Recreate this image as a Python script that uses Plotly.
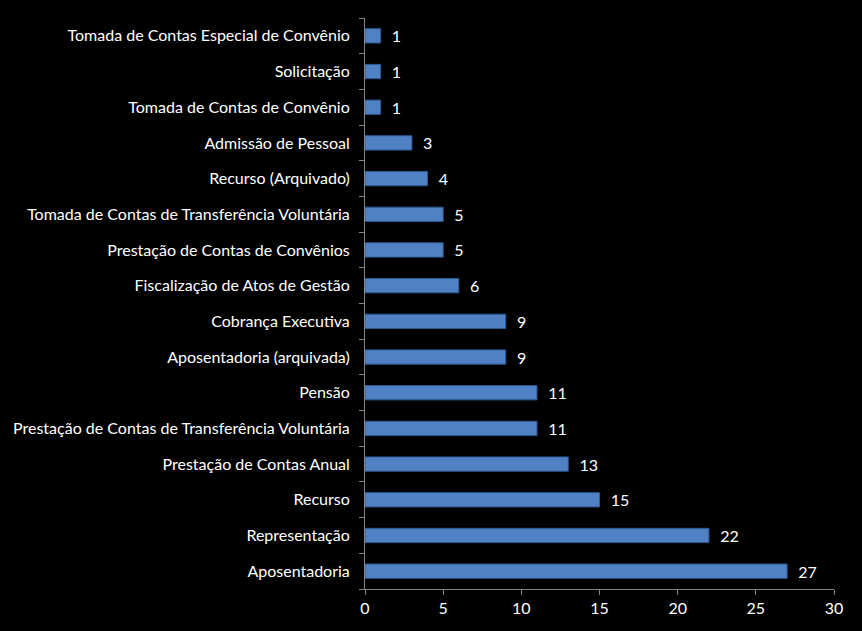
import plotly.graph_objects as go

categorias = [
    "Aposentadoria",
    "Representação",
    "Recurso",
    "Prestação de Contas Anual",
    "Prestação de Contas de Transferência Voluntária",
    "Pensão",
    "Aposentadoria (arquivada)",
    "Cobrança Executiva",
    "Fiscalização de Atos de Gestão",
    "Prestação de Contas de Convênios",
    "Tomada de Contas de Transferência Voluntária",
    "Recurso (Arquivado)",
    "Admissão de Pessoal",
    "Tomada de Contas de Convênio",
    "Solicitação",
    "Tomada de Contas Especial de Convênio",
]
valores = [27, 22, 15, 13, 11, 11, 9, 9, 6, 5, 5, 4, 3, 1, 1, 1]

fig = go.Figure(
    go.Bar(
        x=valores,
        y=categorias,
        orientation="h",
        texttemplate="  %{x}",
        textposition="outside",
        constraintext="none",
        cliponaxis=False,
        textfont=dict(color="white", size=16),
        marker=dict(color="#4f81c4", line=dict(color="#2f5a94", width=1)),
        width=0.4,
        hoverinfo="skip",
    )
)

fig.update_layout(
    width=862,
    height=631,
    paper_bgcolor="black",
    plot_bgcolor="black",
    margin=dict(l=365, r=28, t=18, b=42),
    font=dict(family="Lato, sans-serif", color="white", size=16),
    showlegend=False,
)
fig.update_xaxes(
    range=[0, 30],
    dtick=5,
    showgrid=False,
    zeroline=False,
    showline=True,
    linecolor="#868686",
    ticks="outside",
    tickcolor="#868686",
    ticklen=5,
)
fig.update_yaxes(
    showgrid=False,
    showline=True,
    linecolor="#868686",
    ticks="outside",
    tickson="boundaries",
    tickcolor="#868686",
    ticklen=5,
    ticklabelstandoff=11,
    range=[-0.5, 15.5],
)

# remove the page margin so the black figure fills the window
fig.write_html(
    "out.html",
    config={"displayModeBar": False},
    post_script="document.body.style.margin='0';document.body.style.background='black';",
)
